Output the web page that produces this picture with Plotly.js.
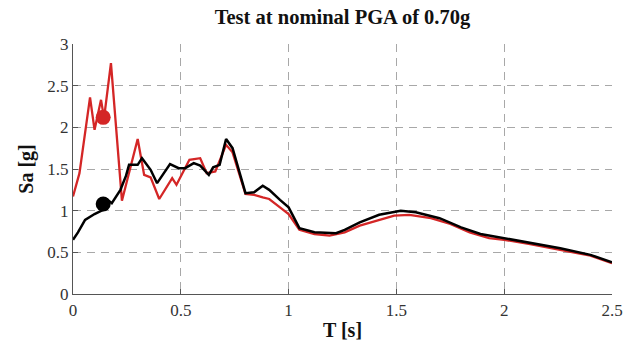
<!DOCTYPE html>
<html>
<head>
<meta charset="utf-8">
<script src="https://cdn.plot.ly/plotly-3.0.1.min.js"></script>
<style>
  html, body { margin: 0; padding: 0; background: #fff; }
  #chart { width: 636px; height: 343px; }
</style>
</head>
<body>
<div id="chart"></div>
<script>
// Spectral acceleration response, red and black records
const periodRed = [0, 0.03, 0.079, 0.10, 0.13, 0.144, 0.176, 0.227, 0.30, 0.33, 0.36, 0.40, 0.46, 0.48, 0.54, 0.59, 0.62, 0.66, 0.71, 0.74, 0.80, 0.84, 0.88, 0.91, 0.96, 1.0, 1.05, 1.12, 1.19, 1.26, 1.33, 1.42, 1.49, 1.56, 1.66, 1.75, 1.84, 1.93, 2.0, 2.12, 2.26, 2.40, 2.5];
const saRed = [1.17, 1.45, 2.36, 1.97, 2.33, 2.11, 2.77, 1.12, 1.86, 1.43, 1.40, 1.14, 1.39, 1.31, 1.61, 1.63, 1.45, 1.47, 1.79, 1.70, 1.20, 1.19, 1.16, 1.14, 1.04, 0.96, 0.77, 0.72, 0.70, 0.74, 0.82, 0.89, 0.94, 0.95, 0.91, 0.84, 0.74, 0.67, 0.65, 0.60, 0.53, 0.46, 0.37];

const periodBlack = [0, 0.023, 0.056, 0.10, 0.14, 0.16, 0.18, 0.195, 0.22, 0.246, 0.26, 0.30, 0.32, 0.36, 0.39, 0.45, 0.49, 0.52, 0.56, 0.59, 0.63, 0.65, 0.68, 0.71, 0.74, 0.80, 0.84, 0.88, 0.91, 0.96, 1.0, 1.05, 1.12, 1.22, 1.26, 1.33, 1.42, 1.52, 1.59, 1.70, 1.80, 1.89, 2.0, 2.12, 2.26, 2.40, 2.5];
const saBlack = [0.65, 0.74, 0.89, 0.96, 1.01, 1.13, 1.09, 1.15, 1.25, 1.42, 1.55, 1.55, 1.63, 1.49, 1.33, 1.56, 1.51, 1.51, 1.57, 1.54, 1.43, 1.52, 1.55, 1.86, 1.75, 1.21, 1.22, 1.30, 1.25, 1.13, 1.04, 0.79, 0.74, 0.73, 0.77, 0.86, 0.95, 1.00, 0.98, 0.91, 0.80, 0.72, 0.67, 0.62, 0.55, 0.47, 0.38];

// Fundamental-period markers
const markerT = [0.14, 0.14];
const markerSa = [2.12, 1.08];

const xTicks = [0, 0.5, 1, 1.5, 2, 2.5];
const xTickText = ['0', '0.5', '1', '1.5', '2', '2.5'];
const yTicks = [0, 0.5, 1, 1.5, 2, 2.5, 3];
const yTickText = ['0', '0.5', '1', '1.5', '2', '2.5', '3'];

const red = 'rgb(212,38,38)';
const serif = 'Liberation Serif';

const traces = [
  { x: periodRed, y: saRed, mode: 'lines', line: { color: red, width: 2.3 }, hoverinfo: 'skip' },
  { x: periodBlack, y: saBlack, mode: 'lines', line: { color: '#000', width: 2.5 }, hoverinfo: 'skip' },
  { x: [markerT[0]], y: [markerSa[0]], mode: 'markers', marker: { color: red, size: 15 }, hoverinfo: 'skip' },
  { x: [markerT[1]], y: [markerSa[1]], mode: 'markers', marker: { color: '#000', size: 15 }, hoverinfo: 'skip' }
];

const gridStyle = { showgrid: true, gridcolor: '#a8a8a8', griddash: '8px,6px', gridwidth: 1 };

const layout = {
  width: 636, height: 343,
  margin: { l: 73, r: 24, t: 44, b: 49 },
  paper_bgcolor: '#fff', plot_bgcolor: '#fff',
  showlegend: false,
  font: { family: serif, color: '#333', size: 17 },
  title: {
    text: '<b>Test at nominal PGA of 0.70g</b>',
    font: { family: serif, size: 20.5, color: '#111' },
    x: 0.5, xref: 'paper', xanchor: 'center',
    y: 0.95, yref: 'container', yanchor: 'middle'
  },
  xaxis: Object.assign({
    range: [0, 2.5], tickvals: xTicks, ticktext: xTickText,
    ticks: 'inside', ticklen: 5, tickcolor: '#555',
    showline: true, linecolor: '#555', linewidth: 1.2, zeroline: false,
    tickfont: { family: serif, size: 17, color: '#333' },
    title: { text: '<b>T [s]</b>', font: { family: serif, size: 20, color: '#111' }, standoff: 4 }
  }, gridStyle),
  yaxis: Object.assign({
    range: [0, 3], tickvals: yTicks, ticktext: yTickText,
    ticks: 'inside', ticklen: 5, tickcolor: '#555',
    showline: true, linecolor: '#555', linewidth: 1.2, zeroline: false,
    tickfont: { family: serif, size: 17, color: '#333' },
    title: { text: '<b>Sa [g]</b>', font: { family: serif, size: 20, color: '#111' }, standoff: 8 }
  }, gridStyle),
  xaxis2: {
    overlaying: 'x', side: 'top', range: [0, 2.5], tickvals: xTicks,
    showticklabels: false, ticks: 'inside', ticklen: 5, tickcolor: '#555',
    showgrid: false, showline: false, zeroline: false
  },
  yaxis2: {
    overlaying: 'y', side: 'right', range: [0, 3], tickvals: yTicks,
    showticklabels: false, ticks: 'inside', ticklen: 5, tickcolor: '#555',
    showgrid: false, showline: false, zeroline: false
  }
};

Plotly.newPlot('chart', traces, layout, { staticPlot: true, displayModeBar: false });
</script>
</body>
</html>
